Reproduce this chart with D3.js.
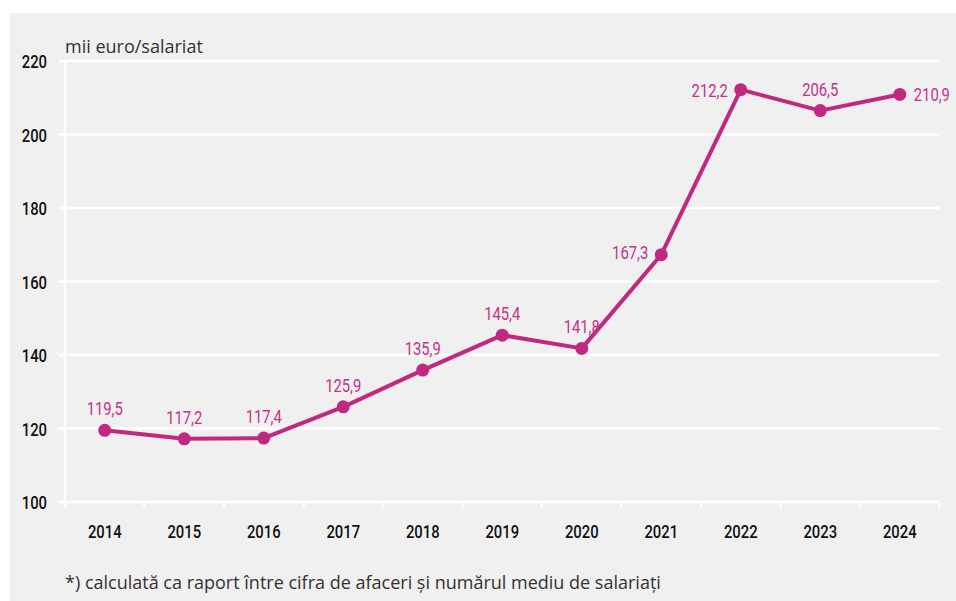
<!DOCTYPE html>
<html>
<head>
<meta charset="utf-8">
<script src="https://cdn.jsdelivr.net/npm/d3@7"></script>
<style>
  body { margin: 0; background: #fff; }
  svg { display: block; }
  .tick-label { font-family: Roboto, "Noto Sans", sans-serif; font-size: 19px; font-weight: 500; fill: #111; }
  .val { font-family: Roboto, "Noto Sans", sans-serif; font-size: 19px; fill: #c2338a; }
  .note { font-family: "Open Sans", "Noto Sans", sans-serif; font-size: 18px; fill: #333; }
</style>
</head>
<body>
<svg id="chart"></svg>
<script>
"use strict";

const years = ['2014', '2015', '2016', '2017', '2018', '2019', '2020', '2021', '2022', '2023', '2024'];
const values = [119.5, 117.2, 117.4, 125.9, 135.9, 145.4, 141.8, 167.3, 212.2, 206.5, 210.9];
// where each value label sits relative to its point
const labelPos = ['top', 'top', 'top', 'top', 'top', 'top', 'top', 'left', 'left', 'top', 'right'];
const yTicks = [100, 120, 140, 160, 180, 200, 220];

(function () {
  let width = 956, height = 601;
  let left = 65, right = 939.5, top = 61, bottom = 502;
  let lineColor = '#c0297f';
  let squeeze = 0.78; // condensed look

  let svg = d3.select('#chart')
    .attr('width', width)
    .attr('height', height);

  svg.append('rect')
    .attr('x', 10).attr('y', 13)
    .attr('width', width - 10).attr('height', height - 13)
    .attr('fill', '#f0f0f0');

  let xScale = d3.scaleBand().domain(years).range([left, right]);
  let yScale = d3.scaleLinear().domain([100, 220]).range([bottom, top]);

  function narrowText(sel, cls, x, y, anchor, txt) {
    return sel.append('text')
      .attr('class', cls)
      .attr('transform', 'translate(' + x + ',' + y + ') scale(' + squeeze + ',1)')
      .attr('text-anchor', anchor)
      .text(txt);
  }

  // gridlines
  svg.selectAll('.grid').data(yTicks).enter().append('line')
    .attr('class', 'grid')
    .attr('x1', left - 7).attr('x2', right)
    .attr('y1', d => yScale(d)).attr('y2', d => yScale(d))
    .attr('stroke', '#fff').attr('stroke-width', 2.5);

  yTicks.forEach(function (t) {
    narrowText(svg, 'tick-label', left - 18, yScale(t) + 7, 'end', d3.format('d')(t));
  });

  // vertical axis line
  svg.append('line')
    .attr('x1', left).attr('x2', left)
    .attr('y1', top).attr('y2', bottom + 6)
    .attr('stroke', '#fff').attr('stroke-width', 2.5);

  // x axis: ticks at band boundaries
  let boundaries = years.map(d => xScale(d)).concat([right]);
  svg.selectAll('.xtick').data(boundaries).enter().append('line')
    .attr('class', 'xtick')
    .attr('x1', d => d).attr('x2', d => d)
    .attr('y1', bottom).attr('y2', bottom + 6)
    .attr('stroke', '#fff').attr('stroke-width', 2.5);

  years.forEach(function (y) {
    narrowText(svg, 'tick-label', xScale(y) + xScale.bandwidth() / 2, bottom + 36, 'middle', y);
  });

  let points = years.map((y, i) => ({ year: y, value: values[i], pos: labelPos[i] }));
  let cx = d => xScale(d.year) + xScale.bandwidth() / 2;

  let line = d3.line().x(cx).y(d => yScale(d.value));

  svg.append('path')
    .datum(points)
    .attr('d', line)
    .attr('fill', 'none')
    .attr('stroke', lineColor)
    .attr('stroke-width', 4)
    .attr('stroke-linejoin', 'round');

  svg.selectAll('.pt').data(points).enter().append('circle')
    .attr('class', 'pt')
    .attr('cx', cx)
    .attr('cy', d => yScale(d.value))
    .attr('r', 6.5)
    .attr('fill', lineColor);

  let fmt = v => v.toFixed(1).replace('.', ',');

  points.forEach(function (d) {
    let x = cx(d), y = yScale(d.value) + 7, anchor = 'middle';
    if (d.pos === 'left') { x -= 13; anchor = 'end'; }
    else if (d.pos === 'right') { x += 14; anchor = 'start'; }
    else { y = yScale(d.value) - 15; }
    if (d.year === '2021') y -= 3;
    narrowText(svg, 'val', x, y, anchor, fmt(d.value));
  });

  svg.append('text')
    .attr('class', 'note')
    .attr('x', left)
    .attr('y', 53)
    .text('mii euro/salariat');

  svg.append('text')
    .attr('class', 'note')
    .attr('x', left)
    .attr('y', 589)
    .text('*) calculată ca raport între cifra de afaceri și numărul mediu de salariați');
})();
</script>
</body>
</html>
